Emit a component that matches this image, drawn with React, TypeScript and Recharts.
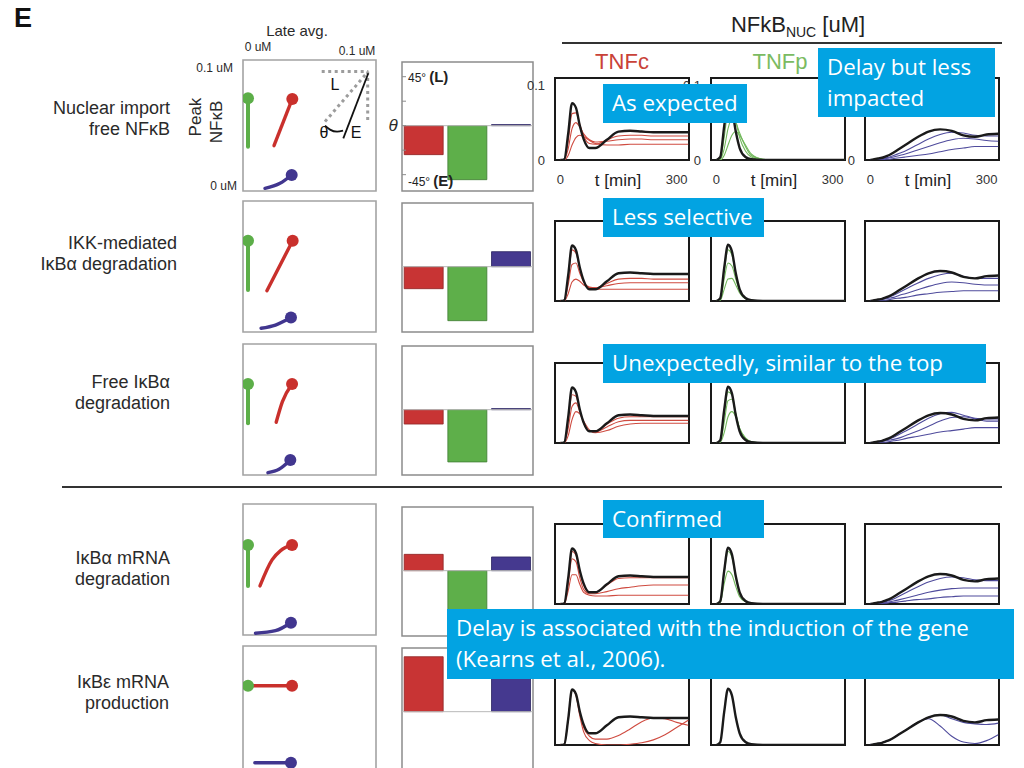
import React from 'react';
import {
  LineChart, Line, XAxis, YAxis, ComposedChart, Scatter, BarChart, Bar, Cell,
  ReferenceArea, ReferenceLine,
} from 'recharts';

// time grid of every simulated course [min]
const TIME = [0, 10, 20, 30, 40, 50, 60, 75, 90, 120, 150, 180, 210, 240, 270, 300, 330];

// wild type courses (black), NFkB nuclear [uM]
const BLACK_TNFC = [0, 0.001, 0.035, 0.076, 0.07, 0.046, 0.028, 0.016, 0.016, 0.027, 0.038, 0.039, 0.038, 0.037, 0.037, 0.037, 0.037];
const BLACK_TNFP = [0, 0.004, 0.045, 0.077, 0.068, 0.038, 0.016, 0.004, 0.001, 0, 0, 0, 0, 0, 0, 0, 0];
const BLACK_THIRD = [0, 0.001, 0.002, 0.003, 0.005, 0.007, 0.01, 0.015, 0.02, 0.03, 0.038, 0.041, 0.039, 0.033, 0.031, 0.034, 0.035];

// perturbed courses, one group per row
const IMPORT_TNFC = [
  [0, 0.001, 0.025, 0.062, 0.063, 0.048, 0.032, 0.022, 0.021, 0.027, 0.032, 0.033, 0.033, 0.032, 0.032, 0.032, 0.032],
  [0, 0.001, 0.015, 0.042, 0.05, 0.044, 0.035, 0.027, 0.024, 0.025, 0.027, 0.028, 0.028, 0.027, 0.027, 0.027, 0.027],
  [0, 0, 0.006, 0.02, 0.03, 0.033, 0.031, 0.026, 0.022, 0.02, 0.02, 0.021, 0.021, 0.021, 0.021, 0.021, 0.021],
];
const IMPORT_TNFP = [
  [0, 0.002, 0.03, 0.065, 0.07, 0.052, 0.03, 0.012, 0.004, 0, 0, 0, 0, 0, 0, 0, 0],
  [0, 0.001, 0.015, 0.042, 0.055, 0.05, 0.036, 0.018, 0.006, 0.001, 0, 0, 0, 0, 0, 0, 0],
  [0, 0, 0.006, 0.02, 0.033, 0.038, 0.033, 0.02, 0.008, 0.001, 0, 0, 0, 0, 0, 0, 0],
];
const IMPORT_THIRD = [
  [0, 0, 0.001, 0.002, 0.003, 0.004, 0.006, 0.009, 0.012, 0.02, 0.028, 0.034, 0.037, 0.036, 0.033, 0.032, 0.032],
  [0, 0, 0, 0.001, 0.002, 0.003, 0.004, 0.006, 0.008, 0.013, 0.018, 0.023, 0.027, 0.029, 0.028, 0.026, 0.025],
  [0, 0, 0, 0, 0.001, 0.001, 0.002, 0.003, 0.004, 0.006, 0.008, 0.011, 0.014, 0.016, 0.018, 0.018, 0.018],
];

const IKK_TNFC = [
  [0, 0.001, 0.03, 0.07, 0.066, 0.044, 0.027, 0.018, 0.018, 0.024, 0.03, 0.031, 0.031, 0.03, 0.03, 0.03, 0.03],
  [0, 0.001, 0.022, 0.05, 0.052, 0.038, 0.026, 0.019, 0.018, 0.021, 0.024, 0.025, 0.025, 0.025, 0.025, 0.025, 0.025],
  [0, 0, 0.01, 0.026, 0.03, 0.027, 0.022, 0.018, 0.016, 0.016, 0.016, 0.016, 0.016, 0.016, 0.016, 0.016, 0.016],
];
const IKK_TNFP = [
  [0, 0.003, 0.04, 0.07, 0.063, 0.036, 0.016, 0.004, 0.001, 0, 0, 0, 0, 0, 0, 0, 0],
  [0, 0.002, 0.03, 0.052, 0.048, 0.03, 0.014, 0.004, 0.001, 0, 0, 0, 0, 0, 0, 0, 0],
  [0, 0.001, 0.016, 0.03, 0.031, 0.022, 0.011, 0.003, 0.001, 0, 0, 0, 0, 0, 0, 0, 0],
];
const IKK_THIRD = [
  [0, 0.001, 0.002, 0.003, 0.004, 0.006, 0.008, 0.012, 0.016, 0.024, 0.031, 0.036, 0.038, 0.034, 0.031, 0.031, 0.031],
  [0, 0, 0.001, 0.002, 0.003, 0.004, 0.005, 0.008, 0.01, 0.015, 0.02, 0.024, 0.026, 0.025, 0.023, 0.022, 0.022],
  [0, 0, 0, 0.001, 0.001, 0.002, 0.003, 0.004, 0.005, 0.008, 0.01, 0.012, 0.013, 0.014, 0.014, 0.014, 0.014],
];

const FREE_TNFC = [
  [0, 0.001, 0.03, 0.066, 0.064, 0.045, 0.027, 0.016, 0.016, 0.026, 0.034, 0.036, 0.036, 0.036, 0.036, 0.036, 0.036],
  [0, 0.001, 0.02, 0.05, 0.055, 0.043, 0.028, 0.016, 0.015, 0.022, 0.029, 0.031, 0.031, 0.031, 0.031, 0.031, 0.031],
  [0, 0, 0.01, 0.032, 0.043, 0.04, 0.03, 0.018, 0.014, 0.017, 0.023, 0.026, 0.027, 0.027, 0.027, 0.027, 0.027],
];
const FREE_TNFP = [
  [0, 0.003, 0.038, 0.07, 0.066, 0.04, 0.018, 0.005, 0.001, 0, 0, 0, 0, 0, 0, 0, 0],
  [0, 0.002, 0.028, 0.058, 0.06, 0.04, 0.02, 0.006, 0.001, 0, 0, 0, 0, 0, 0, 0, 0],
  [0, 0.001, 0.014, 0.036, 0.043, 0.036, 0.02, 0.007, 0.002, 0, 0, 0, 0, 0, 0, 0, 0],
];
const FREE_THIRD = [
  [0, 0.001, 0.002, 0.003, 0.004, 0.006, 0.008, 0.012, 0.016, 0.025, 0.034, 0.04, 0.042, 0.038, 0.034, 0.033, 0.033],
  [0, 0, 0.001, 0.002, 0.003, 0.004, 0.005, 0.007, 0.01, 0.016, 0.023, 0.03, 0.035, 0.036, 0.033, 0.03, 0.03],
  [0, 0, 0, 0.001, 0.001, 0.002, 0.003, 0.004, 0.006, 0.009, 0.012, 0.015, 0.017, 0.019, 0.021, 0.021, 0.021],
];

const MRNA_A_TNFC = [
  [0, 0.001, 0.032, 0.072, 0.067, 0.044, 0.026, 0.016, 0.016, 0.026, 0.035, 0.036, 0.036, 0.036, 0.036, 0.036, 0.036],
  [0, 0.001, 0.028, 0.062, 0.058, 0.036, 0.02, 0.014, 0.014, 0.017, 0.021, 0.023, 0.025, 0.026, 0.026, 0.026, 0.026],
  [0, 0, 0.018, 0.04, 0.04, 0.027, 0.016, 0.012, 0.011, 0.011, 0.012, 0.012, 0.012, 0.012, 0.012, 0.012, 0.012],
];
const MRNA_A_TNFP = [
  [0, 0.004, 0.042, 0.072, 0.064, 0.036, 0.015, 0.004, 0.001, 0, 0, 0, 0, 0, 0, 0, 0],
  [0, 0.002, 0.028, 0.045, 0.04, 0.024, 0.01, 0.003, 0.001, 0, 0, 0, 0, 0, 0, 0, 0],
];
const MRNA_A_THIRD = [
  [0, 0, 0.001, 0.002, 0.003, 0.005, 0.007, 0.011, 0.015, 0.023, 0.03, 0.035, 0.037, 0.036, 0.033, 0.032, 0.032],
  [0, 0, 0.001, 0.001, 0.002, 0.003, 0.004, 0.006, 0.008, 0.012, 0.016, 0.019, 0.021, 0.022, 0.022, 0.022, 0.022],
  [0, 0, 0, 0.001, 0.001, 0.002, 0.002, 0.003, 0.004, 0.006, 0.007, 0.009, 0.01, 0.011, 0.011, 0.011, 0.011],
];

const MRNA_E_TNFC = [
  [0, 0.001, 0.035, 0.076, 0.07, 0.044, 0.024, 0.012, 0.008, 0.008, 0.013, 0.022, 0.032, 0.037, 0.036, 0.031, 0.027],
  [0, 0.001, 0.035, 0.076, 0.068, 0.04, 0.018, 0.006, 0.002, 0, 0, 0.001, 0.003, 0.007, 0.014, 0.024, 0.034],
];
const MRNA_E_TNFP: number[][] = [];
const MRNA_E_THIRD = [
  [0, 0.001, 0.002, 0.003, 0.005, 0.007, 0.01, 0.015, 0.02, 0.03, 0.036, 0.026, 0.012, 0.004, 0.002, 0.006, 0.014],
  [0, 0.001, 0.002, 0.003, 0.005, 0.007, 0.01, 0.015, 0.02, 0.03, 0.038, 0.041, 0.036, 0.031, 0.029, 0.028, 0.03],
];

const COURSES = [
  [IMPORT_TNFC, IMPORT_TNFP, IMPORT_THIRD],
  [IKK_TNFC, IKK_TNFP, IKK_THIRD],
  [FREE_TNFC, FREE_TNFP, FREE_THIRD],
  [MRNA_A_TNFC, MRNA_A_TNFP, MRNA_A_THIRD],
  [MRNA_E_TNFC, MRNA_E_TNFP, MRNA_E_THIRD],
];
const BLACKS = [BLACK_TNFC, BLACK_TNFP, BLACK_THIRD];

// late avg (x) vs peak (y) tracks [uM], last point is the dot
const GREEN_TRACKS = [
  [[0, 0.0356], [0, 0.0773]],
  [[0, 0.0336], [0, 0.0761]],
  [[0, 0.042], [0, 0.0759]],
  [[0, 0.0397], [0, 0.075]],
  [[0, 0.0761]],
];
const RED_TRACKS = [
  [[0.0213, 0.0365], [0.0363, 0.0767]],
  [[0.0155, 0.033], [0.0366, 0.0761]],
  [[0.0231, 0.0428], [0.0282, 0.0606], [0.0361, 0.0759]],
  [[0.0098, 0.0397], [0.0197, 0.0621], [0.0267, 0.0701], [0.0361, 0.075]],
  [[0.001, 0.0761], [0.0361, 0.0761]],
];
const BLUE_TRACKS = [
  [[0.0139, -0.0003], [0.0262, 0.004], [0.0358, 0.0112]],
  [[0.0107, 0.0006], [0.0225, 0.0034], [0.0352, 0.0098]],
  [[0.0163, -0.0006], [0.0254, 0.0023], [0.0347, 0.0103]],
  [[0.0061, -0.0011], [0.0225, 0.0011], [0.0352, 0.008]],
  [[0.0056, 0.0097], [0.0352, 0.0097]],
];

// legend sketch in the first scatter panel
const KEY_TOP = [[0.0604, 0.1003], [0.0986, 0.1003]];
const KEY_RIGHT = [[0.0981, 0.1003], [0.0981, 0.0586]];
const KEY_DIAG = [[0.0631, 0.0572], [0.0973, 0.0989]];
const KEY_E = [[0.0781, 0.0428], [0.0986, 0.0989]];
const KEY_ARC = [[0.0631, 0.0537], [0.0672, 0.0503], [0.073, 0.0485], [0.0779, 0.0494]];
const KEY_LABELS = [
  { x: 0.0713, y: 0.0888, label: 'L' },
  { x: 0.0623, y: 0.0474, label: 'θ' },
  { x: 0.0885, y: 0.0474, label: 'E' },
];

// theta [deg] per row: TNFc, TNFp, third stimulus
const THETA_TNFC = [-26.6, -20.2, -13.2, 15, 50.5];
const THETA_TNFP = [-49.6, -49.6, -48, -42, 0];
const THETA_THIRD = [1, 13.8, 1, 12.6, 42];

const ROW_LABELS = [
  ['Nuclear import', 'free NFκB'],
  ['IKK-mediated', 'IκBα degradation'],
  ['Free IκBα', 'degradation'],
  ['IκBα mRNA', 'degradation'],
  ['IκBε mRNA', 'production'],
];

const CALLOUTS = [
  { left: 603, top: 84, w: 144, h: 39, lines: ['As expected'] },
  { left: 818, top: 48, w: 177, h: 69, lines: ['Delay but less', 'impacted'] },
  { left: 603, top: 198, w: 161, h: 39, lines: ['Less selective'] },
  { left: 603, top: 344, w: 383, h: 39, lines: ['Unexpectedly, similar to the top'] },
  { left: 603, top: 500, w: 161, h: 38, lines: ['Confirmed'] },
  { left: 447, top: 609, w: 567, h: 70, lines: ['Delay is associated with the induction of the gene', '(Kearns et al., 2006).'] },
];

const RED = '#c9302c';
const GREEN = '#5cae48';
const BLUE = '#41368f';
const LINE_COLORS = ['#cf4b40', '#72b85c', '#4f4b9c'];
const BAR_FILLS = ['#c83434', '#5eaf4a', '#45398f'];
const BAR_EDGES = ['#8e2424', '#3f7c32', '#2a2260'];
const CALLOUT_BG = '#02a3e2';

const LOLLI_TOPS = [60, 201, 344, 504, 646];
const BAR_TOPS = [62, 203, 346, 507, 648];
const COURSE_TOPS = [78, 221, 363, 524, 665];
const COURSE_LEFTS = [555, 711, 865];
const LABEL_RIGHTS = [170, 177, 170, 170, 169];
const LABEL_Y = [108, 243, 382, 558, 682];

const T_DOMAIN: [number, number] = [-14, 332];
const C_DOMAIN: [number, number] = [0, 0.1096];
const FONT = '"Liberation Sans", Arial, sans-serif';

const toPts = (arr: number[][]) => arr.map(([x, y]) => ({ x, y }));

const Course: React.FC<{ left: number; top: number; black: number[]; variants: number[][]; color: string; first: boolean }> = ({ left, top, black, variants, color, first }) => {
  const data = TIME.map((t, i) => {
    const row: Record<string, number> = { t, k: black[i] };
    variants.forEach((v, j) => { row['v' + j] = v[i]; });
    return row;
  });
  return (
    <div style={{ position: 'absolute', left: left - 28, top: top - 2 }}>
      <LineChart width={164} height={first ? 118 : 84} data={data} margin={{ top: 2, right: 2, bottom: first ? 0 : 2, left: 2 }}>
        {first ? (
          <XAxis type="number" dataKey="t" domain={T_DOMAIN} allowDataOverflow ticks={[0, 300]} tickLine={false} axisLine={false}
            tickMargin={9} height={34} tick={{ fontSize: 13, fill: '#333', fontFamily: FONT }}
            label={{ value: 't [min]', position: 'center', fontSize: 17, fill: '#222', fontFamily: FONT, dy: 3, dx: -4 }} />
        ) : (
          <XAxis type="number" dataKey="t" domain={T_DOMAIN} allowDataOverflow ticks={[60, 120, 180, 240, 300]} mirror
            tick={false} tickSize={4} axisLine={false} stroke="#9a9a9a" />
        )}
        <YAxis type="number" domain={C_DOMAIN} allowDataOverflow ticks={[0, 0.1]} width={26}
          tick={first ? { fontSize: 13, fill: '#333', fontFamily: FONT } : false}
          tickFormatter={(v: number) => (v === 0 ? '0' : '0.1')} tickLine={false} axisLine={false} tickMargin={4} />
        <ReferenceArea x1={T_DOMAIN[0]} x2={T_DOMAIN[1]} y1={C_DOMAIN[0]} y2={C_DOMAIN[1]} fill="none" stroke="#1a1a1a" strokeWidth={2} ifOverflow="visible" />
        {variants.map((_, j) => (
          <Line key={j} dataKey={'v' + j} type="monotone" stroke={color} strokeWidth={1.1} dot={false} isAnimationActive={false} />
        ))}
        <Line dataKey="k" type="monotone" stroke="#1a1a1a" strokeWidth={2.4} dot={false} isAnimationActive={false} />
      </LineChart>
    </div>
  );
};

const Lollipop: React.FC<{ row: number }> = ({ row }) => {
  const tracks = [
    { pts: toPts(GREEN_TRACKS[row]), color: GREEN, type: 'linear' as const, w: 4 },
    { pts: toPts(RED_TRACKS[row]), color: RED, type: 'monotone' as const, w: 3.4 },
    { pts: toPts(BLUE_TRACKS[row]), color: BLUE, type: 'monotone' as const, w: 3.4 },
  ];
  return (
    <div style={{ position: 'absolute', left: 240, top: LOLLI_TOPS[row] - 3 }}>
      <ComposedChart width={139} height={137} margin={{ top: 3, right: 3, bottom: 3, left: 3 }}>
        <XAxis type="number" dataKey="x" domain={[-0.0041, 0.1049]} allowDataOverflow hide />
        <YAxis type="number" dataKey="y" domain={[-0.0026, 0.1103]} allowDataOverflow hide />
        <ReferenceArea x1={-0.0041} x2={0.1049} y1={-0.0026} y2={0.1103} fill="none" stroke="#a3a3a3" strokeWidth={1.6} ifOverflow="visible" />
        {row === 0 && [KEY_TOP, KEY_RIGHT, KEY_DIAG].map((seg, i) => (
          <Line key={'d' + i} data={toPts(seg)} dataKey="y" type="linear" stroke="#9c9c9c" strokeWidth={3} strokeDasharray="3 3.5" dot={false} isAnimationActive={false} />
        ))}
        {row === 0 && <Line data={toPts(KEY_E)} dataKey="y" type="linear" stroke="#111" strokeWidth={1.8} dot={false} isAnimationActive={false} />}
        {row === 0 && <Line data={toPts(KEY_ARC)} dataKey="y" type="monotone" stroke="#111" strokeWidth={1.8} dot={false} isAnimationActive={false} />}
        {row === 0 && (
          <Scatter data={KEY_LABELS} isAnimationActive={false}
            shape={(p: any) => (
              <text x={p.cx} y={p.cy} textAnchor="middle" dominantBaseline="central" fontSize={16} fill="#111" fontFamily={FONT}>{p.payload.label}</text>
            )} />
        )}
        {tracks.map((tr, i) => (
          <Line key={'t' + i} data={tr.pts} dataKey="y" type={tr.type} stroke={tr.color} strokeWidth={tr.w} strokeLinecap="round" dot={false} isAnimationActive={false} />
        ))}
        {tracks.map((tr, i) => (
          <Scatter key={'s' + i} data={[tr.pts[tr.pts.length - 1]]} isAnimationActive={false}
            shape={(p: any) => <circle cx={p.cx} cy={p.cy} r={6} fill={tr.color} />} />
        ))}
      </ComposedChart>
    </div>
  );
};

const AngleTick = (props: any) => {
  const { x, y, payload } = props;
  if (payload.value === 45) {
    return (
      <text x={x} y={y} dy={5} fontSize={12} fill="#222" fontFamily={FONT}>
        45°<tspan dx={3} fontSize={15} fontWeight="bold">(L)</tspan>
      </text>
    );
  }
  if (payload.value === -45) {
    return (
      <text x={x} y={y} dy={11} fontSize={12} fill="#222" fontFamily={FONT}>
        -45°<tspan dx={3} fontSize={15} fontWeight="bold">(E)</tspan>
      </text>
    );
  }
  return null;
};

const Angles: React.FC<{ row: number }> = ({ row }) => {
  const data = [
    { k: 'TNFc', v: THETA_TNFC[row] },
    { k: 'TNFp', v: THETA_TNFP[row] },
    { k: 'third', v: THETA_THIRD[row] },
  ];
  return (
    <div style={{ position: 'absolute', left: 399, top: BAR_TOPS[row] - 3 }}>
      <BarChart width={137} height={135} data={data} margin={{ top: 3, right: 3, bottom: 3, left: 3 }} barCategoryGap="5%">
        <XAxis dataKey="k" hide />
        <YAxis type="number" domain={[-60, 58.5]} allowDataOverflow ticks={[-45, -22.5, 0, 22.5, 45]} mirror tickSize={4} tickMargin={2}
          axisLine={false} stroke="#8c8c8c" tick={row === 0 ? AngleTick : false} />
        <ReferenceArea y1={-60} y2={58.5} fill="none" stroke="#8c8c8c" strokeWidth={1.5} ifOverflow="visible" />
        <ReferenceLine y={0} stroke="#b8b8b8" strokeWidth={1} />
        <Bar dataKey="v" isAnimationActive={false}>
          {data.map((_, i) => <Cell key={i} fill={BAR_FILLS[i]} stroke={BAR_EDGES[i]} strokeWidth={0.8} />)}
        </Bar>
      </BarChart>
    </div>
  );
};

const Txt: React.FC<{ x: number; y: number; size: number; align?: 'left' | 'center' | 'right'; color?: string; bold?: boolean; italic?: boolean; children: React.ReactNode }> = ({ x, y, size, align = 'left', color = '#2a2a2a', bold, italic, children }) => {
  const lh = Math.round(size * 1.2);
  const style: React.CSSProperties = {
    position: 'absolute', top: y - lh / 2, fontSize: size, lineHeight: lh + 'px', color, whiteSpace: 'nowrap',
    fontWeight: bold ? 'bold' : 'normal', fontStyle: italic ? 'italic' : 'normal',
  };
  if (align === 'right') { style.right = 1024 - x; style.textAlign = 'right'; }
  else if (align === 'center') { style.left = x; style.transform = 'translateX(-50%)'; }
  else style.left = x;
  return <div style={style}>{children}</div>;
};

const App: React.FC = () => {
  return (
    <div style={{ position: 'absolute', left: 0, top: 0, width: 1024, height: 768, overflow: 'hidden', background: '#fff', fontFamily: FONT }}>
      {ROW_LABELS.map((_, r) => <Lollipop key={'l' + r} row={r} />)}
      {ROW_LABELS.map((_, r) => <Angles key={'a' + r} row={r} />)}
      {COURSES.map((group, r) => group.map((variants, c) => (
        <Course key={`c${r}-${c}`} left={COURSE_LEFTS[c]} top={COURSE_TOPS[r]} black={BLACKS[c]} variants={variants}
          color={LINE_COLORS[c]} first={r === 0} />
      )))}

      <Txt x={14} y={18} size={27} bold color="#111">E</Txt>
      <Txt x={297} y={31} size={15} align="center">Late avg.</Txt>
      <Txt x={258} y={47} size={12} align="center">0 uM</Txt>
      <Txt x={357} y={51} size={12} align="center">0.1 uM</Txt>
      <Txt x={233} y={68} size={12} align="right">0.1 uM</Txt>
      <Txt x={237} y={186} size={12} align="right">0 uM</Txt>
      <div style={{ position: 'absolute', left: 196, top: 117, transform: 'translate(-50%, -50%) rotate(-90deg)', fontSize: 17, lineHeight: '18px', color: '#2a2a2a', whiteSpace: 'nowrap' }}>Peak</div>
      <div style={{ position: 'absolute', left: 217, top: 122, transform: 'translate(-50%, -50%) rotate(-90deg)', fontSize: 17, lineHeight: '18px', color: '#2a2a2a', whiteSpace: 'nowrap' }}>NFκB</div>
      <Txt x={393} y={126} size={17} align="center" italic>θ</Txt>

      {ROW_LABELS.map((lines, r) => (
        <div key={'rl' + r} style={{ position: 'absolute', right: 1024 - LABEL_RIGHTS[r], top: LABEL_Y[r] - 10.5, textAlign: 'right', fontSize: 18, lineHeight: '21px', color: '#2a2a2a', whiteSpace: 'nowrap' }}>
          {lines[0]}<br />{lines[1]}
        </div>
      ))}

      <Txt x={798} y={25} size={22} align="center" color="#222">NFkB<sub style={{ fontSize: 14 }}>NUC</sub> [uM]</Txt>
      <div style={{ position: 'absolute', left: 562, top: 42, width: 440, height: 2, background: '#333' }} />
      <Txt x={622} y={62} size={22} align="center" color="#c94238">TNFc</Txt>
      <Txt x={780} y={62} size={22} align="center" color="#7bbb62">TNFp</Txt>
      <div style={{ position: 'absolute', left: 62, top: 486, width: 940, height: 2, background: '#333' }} />

      {CALLOUTS.map((c, i) => (
        <div key={'co' + i} style={{
          position: 'absolute', left: c.left, top: c.top, width: c.w, height: c.h, boxSizing: 'border-box',
          background: CALLOUT_BG, color: '#fff', fontFamily: '"Open Sans", "Noto Sans", sans-serif', fontSize: 22.3,
          lineHeight: c.lines.length > 1 ? '30.5px' : '30px', padding: '4px 9px', whiteSpace: 'nowrap', overflow: 'hidden',
        }}>
          {c.lines.map((l, j) => <div key={j}>{l}</div>)}
        </div>
      ))}
    </div>
  );
};

export default App;
